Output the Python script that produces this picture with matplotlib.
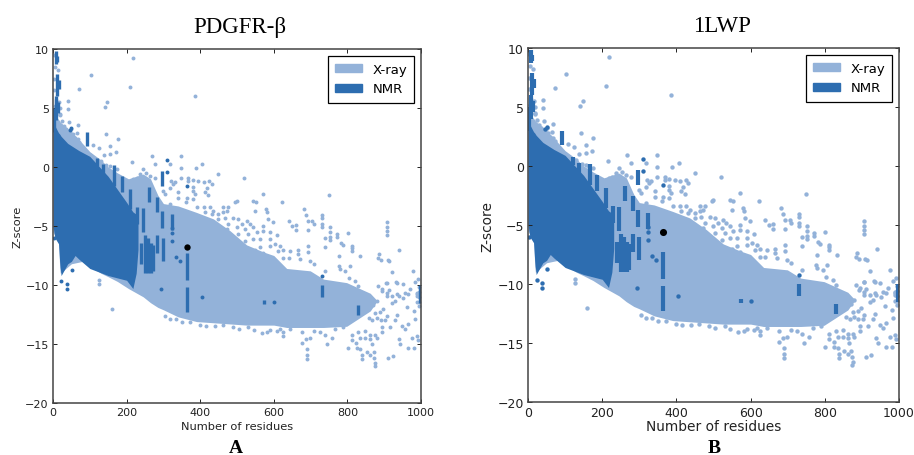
#!/usr/bin/env python3
import numpy as np
from matplotlib import pyplot as plt
from matplotlib.patches import Patch

plt.rcParams['font.family'] = 'DejaVu Sans'
XRAY = '#93b2d9'
NMR = '#2d6db0'

# solid part of the clouds
xray_x = [0, 16, 18, 20, 50, 80, 100, 130, 150, 175, 205, 245, 265, 285, 300, 340, 390, 436, 481, 526, 572, 600, 635, 699, 735, 798, 862, 880]
xray_top = [4.5, 4, 3.9, 3.8, 3, 2, 1.3, 0.6, 0, -0.5, -1.0, -0.6, -1, -2.4, -3.1, -3.3, -3.85, -4.4, -5.4, -6.6, -7.2, -7.5, -8.6, -8.8, -9.5, -9.8, -10.7, -11.3]
xray_bot = [-5.5, -6.5, -8.5, -9, -8.2, -8, -8.4, -9, -9.3, -9.7, -10.3, -11, -11.5, -11.9, -12.1, -12.7, -13.1, -13.2, -13.3, -13.4, -13.4, -13.4, -13.6, -13.6, -13.6, -13.5, -12.2, -11.4]

nmr_x = [0, 5, 15, 18, 22, 40, 50, 60, 70, 100, 150, 200, 217, 226, 231]
nmr_top = [4, 3.5, 2.9, 2.8, 2.6, 2, 1.8, 1.6, 1.4, 0.9, -0.8, -3, -3.8, -4, -4.4]
nmr_bot = [-5, -6, -6.5, -8, -9.2, -8.2, -8, -7.5, -7.8, -8.6, -9.2, -9.6, -10.3, -9, -7]

# x-ray points outside the solid cloud (residues, z-score)
xray_high = [
    (217, 9.2), (103, 7.8), (72, 6.6), (210, 6.8), (385, 6.0), (41, 5.6), (147, 5.5), (141, 5.1), (40, 4.9),
    (68, 3.6), (43, 3.8), (143, 2.8), (176, 2.4), (156, 1.8), (124, 1.6), (109, 1.9), (172, 1.3), (156, 1.1),
    (138, 1.0), (3, 9.5), (5, 8.5), (4, 7.5), (3, 6.5), (5, 5.2), (17, 5.5), (20, 5), (18, 4.5), (14, 8.2),
    (50, 3.2), (55, 2.8), (60, 2.5), (65, 2.9), (68, 2.4), (72, 2.1), (75, 1.7), (62, 2), (80, 1.4), (85, 1.1),
    (30, 3.5), (35, 3.2), (38, 2.9), (45, 3), (20, 4.4), (25, 3.9), (100, 1.0), (110, 0.8), (115, 0.5), (130, 0.5),
    (145, 0.2), (155, 0.1), (165, -0.1), (175, -0.2),
]
xray_mid = [
    (268, 0.95), (347, 0.95), (216, 0.45), (277, 0.25), (318, 0.25), (406, 0.25), (388, -0.1), (348, -0.05),
    (449, -0.6), (519, -0.9), (245, -0.2), (254, -0.5), (236, -0.6), (227, -0.9), (264, -0.75), (218, -1),
    (277, -0.9), (322, -1.2), (331, -1.3), (327, -1.45), (347, -0.97), (368, -0.97), (381, -1.08), (395, -1.2),
    (409, -1.3), (425, -1.2), (431, -1.45), (368, -1.2), (318, -1.8), (300, -2), (304, -2.3), (341, -2.15),
    (381, -1.7), (381, -2), (386, -2.3), (381, -2.7), (418, -1.8), (413, -2.15), (422, -2.4), (363, -2.6),
    (361, -3), (341, -2.6), (318, -3.15), (572, -2.3), (495, -3), (499, -2.9), (544, -2.9), (552, -3),
    (549, -3.7), (579, -3.6), (582, -3.85), (599, -4.7), (585, -4.4), (463, -3.4), (476, -3.35), (472, -3.7),
    (463, -3.85), (390, -3.35), (409, -3.35), (427, -3.4), (436, -3.7), (449, -4), (431, -4), (413, -3.85),
    (467, -4.3), (449, -4.4), (490, -4.3), (504, -4.4), (526, -4.6), (535, -4.85), (513, -4.85), (476, -4.85),
    (499, -5.1), (544, -5.1), (522, -5.25), (472, -5.25), (572, -5), (572, -5.4), (553, -5.55), (531, -5.7),
    (504, -5.7), (608, -5.8), (590, -6.1), (562, -6.1), (544, -6.1), (522, -6.3), (590, -6.7), (562, -6.8),
    (603, -6.55), (612, -7.1), (572, -7.25), (549, -7),
]
xray_right = [
    (749, -2.4), (622, -2.95), (681, -3.6), (688, -4.1), (692, -4.55), (730, -4.05), (730, -4.35), (730, -4.8),
    (730, -5.1), (705, -4.6), (708, -4.8), (692, -5.3), (753, -5.1), (753, -5.55), (753, -5.9), (753, -6.2),
    (771, -5.7), (771, -5.9), (801, -5.6), (739, -6), (739, -6.75), (782, -6.4), (788, -6.6), (812, -6.7),
    (812, -6.9), (812, -7.1), (833, -7.5), (778, -7.55), (692, -6.7), (692, -7.2), (667, -7), (644, -7.1),
    (667, -7.4), (672, -7.8), (626, -7), (617, -6.7), (640, -4.6), (649, -5), (661, -4.9), (661, -5.3),
    (590, -5.55), (626, -7.7), (640, -7.7), (699, -8), (708, -8.2), (739, -8.8), (776, -8.4), (780, -8.65),
    (807, -8.4), (794, -8.8), (803, -9.4), (821, -9.65), (830, -10.1), (907, -4.7), (907, -5.1), (907, -5.4),
    (907, -5.8), (941, -7.05), (886, -7.4), (884, -7.7), (891, -7.9), (909, -7.9), (914, -8), (921, -8.9),
    (977, -8.85), (993, -9.45), (984, -9.75), (932, -9.75), (950, -9.9), (905, -9.85), (884, -10.1), (894, -10.35),
    (907, -10.65), (921, -10.9), (934, -10.8), (957, -10.65), (970, -10.35), (989, -10.65),
    (907, -9.8), (934, -9.8), (893, -10.5), (912, -10.4), (907, -10.9), (921, -11.5), (939, -10.9), (952, -11.1),
    (930, -11.35), (961, -11.9), (966, -10.8), (880, -11.35), (898, -12), (889, -12.3), (907, -12.6), (903, -13),
    (894, -13.6), (916, -13.6), (934, -12.5), (930, -13), (948, -13.5), (966, -13.3), (957, -13.75), (939, -14.6),
    (943, -15), (966, -15.3), (980, -15.3), (975, -14.5), (989, -14.3), (993, -14.7), (984, -12.9), (980, -12.2),
    (989, -10.9), (995, -10.2), (995, -10.6), (995, -11), (995, -11.4), (995, -11.8), (988, -10.8), (988, -11.4),
    (870, -11.7), (875, -12.4), (880, -12.8), (890, -13), (868, -13), (858, -12.8),
]
xray_low = [
    (690, -15.45), (690, -15.9), (691, -16.3), (676, -14.9), (688, -14.6), (699, -14.5), (744, -15), (801, -15.3),
    (812, -14.7), (824, -14.9), (835, -15.45), (839, -15.9), (839, -16.3), (853, -15.7), (862, -15.9), (871, -15.7),
    (873, -16.15), (875, -16.6), (874, -16.9), (910, -16.2), (925, -16), (866, -15), (826, -15.3),
    (626, -14), (626, -14.3), (617, -13.75), (644, -13.75), (676, -14), (708, -13.9), (726, -14), (739, -14.2),
    (758, -14.5), (767, -13.75), (789, -13.6), (812, -14.2), (830, -14), (848, -13.9), (862, -14.2), (875, -14.2),
    (880, -14.5), (894, -14), (848, -14.5), (835, -14.5), (862, -14.6), (567, -14.1), (581, -14),
    (305, -12.6), (318, -12.9), (335, -12.9), (350, -13.1), (372, -13.1), (400, -13.4), (415, -13.5), (440, -13.5),
    (462, -13.4), (488, -13.6), (505, -13.7), (530, -13.6), (545, -13.8), (590, -13.8), (610, -13.9), (160, -12),
    (126, -9.6), (126, -9.9),
]
xray_pts = xray_high + xray_mid + xray_right + xray_low

# nmr columns (residues, z from, z to)
nmr_cols = [
    (92, 1.8, 3), (120, 0.1, 0.75), (137, -1, 0.25), (166, -1.6, 0.2), (187, -2.1, -0.8), (209, -3.6, -1.9),
    (228, -4.8, -3.4), (245, -5.5, -3.5), (261, -3, -1.7), (282, -3.8, -2.5), (297, -1.6, -0.3), (297, -5.2, -3.7),
    (323, -5.3, -4), (240, -8.2, -6.4), (250, -9, -5.8), (258, -9, -6), (266, -9, -6.4), (272, -8.8, -6.6),
    (283, -7.3, -5.8), (299, -8, -6), (363, -9.6, -7.3), (363, -12.3, -10.2), (574, -11.6, -11.3), (731, -11, -10),
    (829, -12.5, -11.7), (998, -11.5, -10), (8, 8.7, 9.8), (12, 8.9, 9.4), (11, 6, 7.9), (15, 6.6, 7.4),
    (9, 4.3, 5.8), (13, 4.6, 5.5), (4, 3, 5), (8, 4, 6),
]
nmr_pts = [(293, -10.3), (404, -11), (600, -11.4), (731, -9.2), (309, 0.6), (309, -0.4), (363, -1.6), (323, -5.2),
           (323, -5.6), (323, -6.3), (335, -7.6), (345, -8), (23, -9.7), (38, -9.9), (38, -10.3), (52, -8.7),
           (50, 3.3), (47, 3.1), (2, -6)]

panel_titles = ['PDGFR-\u03b2', '1LWP']
panel_letters = ['A', 'B']
target_x = [363, 363]
target_z = [-6.8, -5.6]

W, H = 914.0, 456.0


def draw_panel(left, right, top, bottom, i, tick_size, label_size, ms, title_x, letter_x, xpad, ypad):
    ax = plt.gcf().add_axes([left/W, 1-bottom/H, (right-left)/W, (bottom-top)/H])
    pts = np.array(xray_pts)
    cols = np.array(nmr_cols)
    npts = np.array(nmr_pts)
    ax.fill_between(xray_x, xray_bot, xray_top, color=XRAY, lw=0)
    ax.scatter(pts[:, 0], pts[:, 1], s=ms, c=XRAY, linewidths=0)
    ax.fill_between(nmr_x, nmr_bot, nmr_top, color=NMR, lw=0)
    ax.vlines(cols[:, 0], cols[:, 1], cols[:, 2], color=NMR, lw=ms*0.3)
    ax.scatter(npts[:, 0], npts[:, 1], s=ms, c=NMR, linewidths=0)
    ax.scatter(target_x[i], target_z[i], s=ms*2.6, c='black', linewidths=0, zorder=5)
    ax.set_xlim(0, 1000)
    ax.set_ylim(-20, 10)
    ax.set_xticks([0, 200, 400, 600, 800, 1000])
    ax.set_yticks([-20, -15, -10, -5, 0, 5, 10])
    ax.tick_params(direction='in', length=3, width=0.7, top=True, right=True, labelsize=tick_size,
                   pad=3, colors='#222222')
    for s in ax.spines.values():
        s.set_linewidth(1.1)
        s.set_color('#444444')
    ax.set_xlabel('Number of residues', fontsize=label_size, labelpad=xpad, color='#222222')
    ax.set_ylabel('Z-score', fontsize=label_size, labelpad=ypad, color='#222222')
    leg = ax.legend(handles=[Patch(color=XRAY, label='X-ray'), Patch(color=NMR, label='NMR')],
                    loc='upper right', fontsize=9.5, fancybox=False, framealpha=1, edgecolor='black',
                    borderaxespad=0.5, borderpad=0.55, labelspacing=0.5, handlelength=2.0, handleheight=0.6,
                    handletextpad=0.8)
    leg.get_frame().set_linewidth(0.9)
    plt.gcf().text(title_x/W, 1-27/H, panel_titles[i], family='Liberation Serif', fontsize=16.5,
                   ha='center', va='center')
    plt.gcf().text(letter_x/W, 1-449/H, panel_letters[i], family='Liberation Serif', fontsize=14,
                   weight='bold', ha='center', va='center')


def main():
    plt.figure(figsize=(9.14, 4.56), dpi=100)
    draw_panel(53, 421, 50, 404, 0, 8, 8.2, 8, 240, 236, 3, 2)
    draw_panel(528, 899, 49, 403, 1, 9, 9.9, 10, 722, 714, 0, 2)
    plt.savefig('out.png', dpi=100)


if __name__ == "__main__":
    main()
